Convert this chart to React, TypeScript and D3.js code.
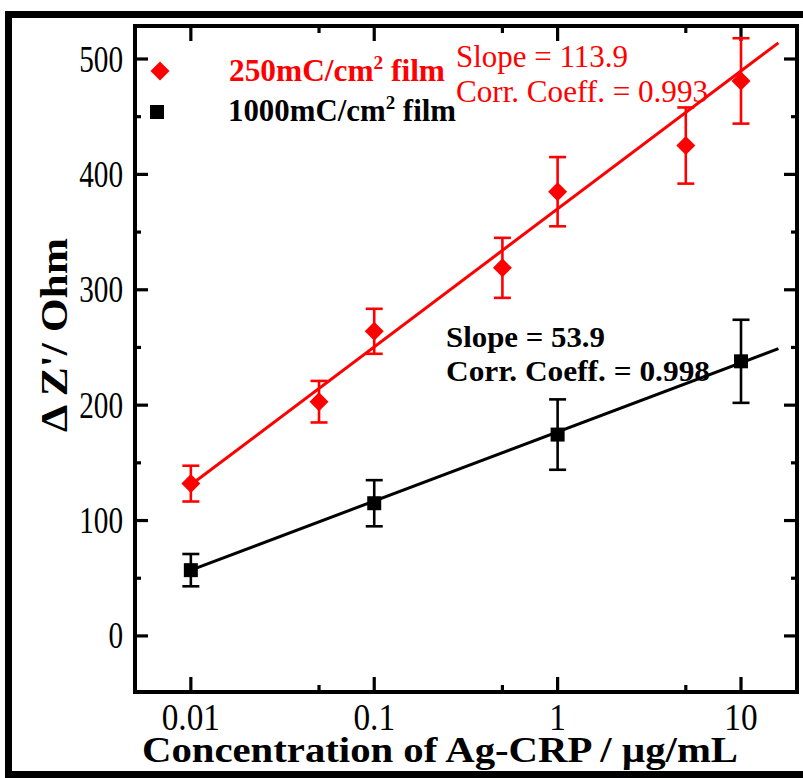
import React from "react";
import * as d3 from "d3";

const conc250 = [0.01, 0.05, 0.1, 0.5, 1, 5, 10];
const val250 = [132, 203, 264, 319, 385, 425, 481];
const err250 = [15.5, 18, 19.5, 26, 30, 33, 37];

const conc1000 = [0.01, 0.1, 1, 10];
const val1000 = [57, 115, 174.5, 238];
const err1000 = [14, 20, 30.5, 36];

const fitX = [0.01, 16];
const fit250 = [131, 514];
const fit1000 = [57, 249];

const xMajor = [0.01, 0.1, 1, 10];
const xMajorLabels = ["0.01", "0.1", "1", "10"];
const xMinor = [0.05, 0.5, 5];
const yMajor = [0, 100, 200, 300, 400, 500];
const yMinor = [50, 150, 250, 350, 450];

const W = 803, H = 778;
const L = 135, R = 797, T = 26, B = 692;

const FONT = "'Liberation Serif', 'Times New Roman', serif";

export default function App() {
  const x = d3.scaleLog().domain([0.00496, 20.2]).range([L, R]);
  const y = d3.scaleLinear().domain([-48.6, 528.6]).range([B, T]);
  const red = "#ff0000";
  const sx = 0.79;

  const line = d3.line<[number, number]>().x(d => x(d[0])).y(d => y(d[1]));

  const errBar = (cx: number, v: number, e: number, color: string, key: string) => (
    <g key={key} stroke={color} strokeWidth={2.6}>
      <line x1={x(cx)} x2={x(cx)} y1={y(v - e)} y2={y(v + e)} />
      <line x1={x(cx) - 8.5} x2={x(cx) + 8.5} y1={y(v - e)} y2={y(v - e)} />
      <line x1={x(cx) - 8.5} x2={x(cx) + 8.5} y1={y(v + e)} y2={y(v + e)} />
    </g>
  );

  const diamond = (cx: number, cy: number, key: string) => (
    <path key={key} d={`M${cx},${cy - 9.5}L${cx + 9.5},${cy}L${cx},${cy + 9.5}L${cx - 9.5},${cy}Z`} fill={red} />
  );
  const square = (cx: number, cy: number, key: string) => (
    <rect key={key} x={cx - 7} y={cy - 7} width={14} height={14} fill="#000" />
  );

  const tx = (px: number, py: number, s = sx) => `translate(${px},${py}) scale(${s},1)`;

  return (
    <svg width={W} height={H} style={{ position: "absolute", left: 0, top: 0, background: "#fff" }} fontFamily={FONT}>
      {/* outer frame */}
      <rect x={8.5} y={14.5} width={805} height={760} fill="none" stroke="#000" strokeWidth={7} />

      {/* ticks */}
      <g stroke="#000" strokeWidth={3.2}>
        {xMajor.map(v => (
          <g key={"xm" + v}>
            <line x1={x(v)} x2={x(v)} y1={B} y2={B - 15} />
            <line x1={x(v)} x2={x(v)} y1={T} y2={T + 15} />
          </g>
        ))}
        {xMinor.map(v => (
          <g key={"xn" + v}>
            <line x1={x(v)} x2={x(v)} y1={B} y2={B - 7} />
            <line x1={x(v)} x2={x(v)} y1={T} y2={T + 7} />
          </g>
        ))}
        {yMajor.map(v => (
          <g key={"ym" + v}>
            <line x1={L} x2={L + 13} y1={y(v)} y2={y(v)} />
            <line x1={R} x2={R - 13} y1={y(v)} y2={y(v)} />
          </g>
        ))}
        {yMinor.map(v => (
          <g key={"yn" + v}>
            <line x1={L} x2={L + 6} y1={y(v)} y2={y(v)} />
            <line x1={R} x2={R - 6} y1={y(v)} y2={y(v)} />
          </g>
        ))}
      </g>

      {/* axes box */}
      <rect x={L} y={T} width={R - L} height={B - T} fill="none" stroke="#000" strokeWidth={4} />

      {/* tick labels */}
      <g fontSize={37} fill="#000">
        {yMajor.map(v => (
          <text key={"yl" + v} transform={tx(123, y(v) + 12.5)} textAnchor="end">{v}</text>
        ))}
        {xMajor.map((v, i) => (
          <text key={"xl" + v} transform={tx(x(v), 730, 0.9)} textAnchor="middle">{xMajorLabels[i]}</text>
        ))}
      </g>

      {/* fit lines */}
      <path d={line(fitX.map((v, i) => [v, fit250[i]]) as [number, number][]) || ""} stroke={red} strokeWidth={3} fill="none" />
      <path d={line(fitX.map((v, i) => [v, fit1000[i]]) as [number, number][]) || ""} stroke="#000" strokeWidth={3} fill="none" />

      {/* error bars and markers */}
      {conc250.map((c, i) => errBar(c, val250[i], err250[i], red, "e250" + i))}
      {conc1000.map((c, i) => errBar(c, val1000[i], err1000[i], "#000", "e1000" + i))}
      {conc250.map((c, i) => diamond(x(c), y(val250[i]), "d" + i))}
      {conc1000.map((c, i) => square(x(c), y(val1000[i]), "s" + i))}

      {/* legend */}
      {diamond(160, 71, "legd")}
      {square(157, 112, "legs")}
      <text x={229} y={81} fontSize={31} fontWeight="bold" fill={red} textLength={216} lengthAdjust="spacingAndGlyphs">
        250mC/cm<tspan fontSize={19} dy={-12}>2</tspan><tspan dy={12}> film</tspan>
      </text>
      <text x={228} y={121} fontSize={31} fontWeight="bold" fill="#000" textLength={228} lengthAdjust="spacingAndGlyphs">
        1000mC/cm<tspan fontSize={19} dy={-12}>2</tspan><tspan dy={12}> film</tspan>
      </text>

      {/* red annotation */}
      <text x={456} y={67} fontSize={31} fill={red} textLength={172} lengthAdjust="spacingAndGlyphs">Slope = 113.9</text>
      <text x={456} y={102} fontSize={31} fill={red} textLength={252} lengthAdjust="spacingAndGlyphs">Corr. Coeff. = 0.993</text>

      {/* black annotation */}
      <text x={446} y={347} fontSize={30} fontWeight="bold" fill="#000" textLength={159} lengthAdjust="spacingAndGlyphs">Slope = 53.9</text>
      <text x={446} y={381} fontSize={30} fontWeight="bold" fill="#000" textLength={264} lengthAdjust="spacingAndGlyphs">Corr. Coeff. = 0.998</text>

      {/* axis titles */}
      <text x={142} y={762} fontSize={36} fontWeight="bold" fill="#000" textLength={596} lengthAdjust="spacingAndGlyphs">Concentration of Ag-CRP / µg/mL</text>
      <text transform="translate(67,432) rotate(-90)" fontSize={38} fontWeight="bold" fill="#000" textLength={194} lengthAdjust="spacingAndGlyphs">Δ Z'/ Ohm</text>
    </svg>
  );
}
